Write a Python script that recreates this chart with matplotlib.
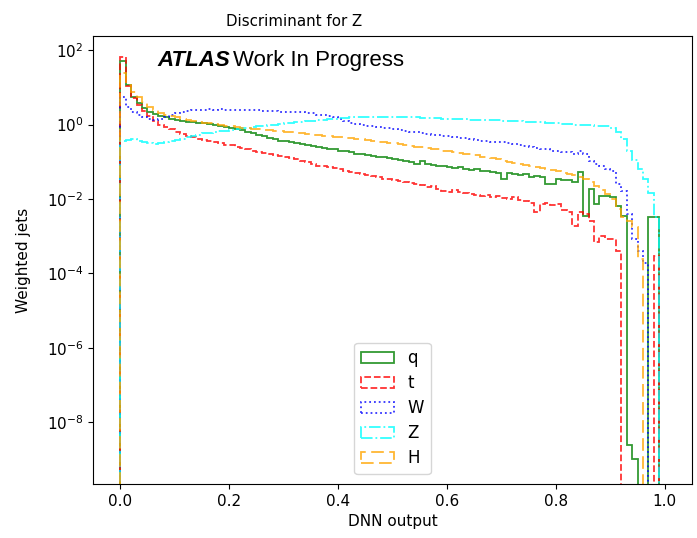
import numpy as np
import matplotlib
matplotlib.use("Agg")
import matplotlib.pyplot as plt
from matplotlib.ticker import NullLocator

# 100 bins of DNN output between 0 and 1
bin_edges = np.linspace(0.0, 1.0, 101)

q_vals = [51, 11.7, 5.6, 3.9, 2.8, 2.2, 1.9, 1.66, 1.55, 1.41,
          1.32, 1.26, 1.20, 1.15, 1.12, 1.07, 1.02, 0.95, 0.91, 0.85,
          0.79, 0.74, 0.71, 0.65, 0.60, 0.54, 0.48, 0.44, 0.40, 0.37,
          0.355, 0.33, 0.316, 0.295, 0.28, 0.26, 0.25, 0.24, 0.224, 0.214,
          0.20, 0.19, 0.178, 0.166, 0.158, 0.151, 0.145, 0.138, 0.132, 0.126,
          0.117, 0.112, 0.107, 0.100, 0.085, 0.105, 0.089, 0.083, 0.079, 0.076,
          0.071, 0.068, 0.074, 0.065, 0.060, 0.063, 0.056, 0.058, 0.054, 0.050,
          0.034, 0.050, 0.047, 0.045, 0.048, 0.040, 0.042, 0.038, 0.025, 0.026,
          0.035, 0.032, 0.033, 0.028, 0.052, 0.0035, 0.019, 0.0074, 0.012, 0.012,
          0.0112, 0.0066, 0.0035, 2.5e-9, 1e-9, 0, 0, 0.0033, 0.0033, 0]

t_vals = [66, 11.2, 5.2, 3.3, 2.3, 1.66, 1.26, 1.0, 0.85, 0.74,
          0.63, 0.55, 0.50, 0.45, 0.42, 0.38, 0.355, 0.33, 0.31, 0.29,
          0.275, 0.257, 0.24, 0.22, 0.20, 0.178, 0.174, 0.166, 0.151, 0.141,
          0.132, 0.126, 0.117, 0.107, 0.098, 0.089, 0.079, 0.076, 0.071, 0.066,
          0.063, 0.056, 0.054, 0.050, 0.048, 0.045, 0.042, 0.038, 0.035, 0.034,
          0.032, 0.030, 0.028, 0.027, 0.025, 0.024, 0.021, 0.022, 0.019, 0.0166,
          0.0151, 0.0178, 0.0158, 0.0141, 0.0132, 0.0126, 0.0120, 0.0126, 0.0112, 0.0120,
          0.0105, 0.0100, 0.0112, 0.0095, 0.0089, 0.0079, 0.0045, 0.0074, 0.0079, 0.0071,
          0.0074, 0.0050, 0.0045, 0.0019, 0.0045, 0.0040, 0.0026, 0.00071, 0.00102, 0.00085,
          0.00085, 0.00039, 0, 0, 0, 0, 0, 0, 0.0003, 0]

w_vals = [5.6, 3.0, 2.24, 1.86, 1.58, 1.38, 1.35, 1.41, 1.58, 1.78,
          2.0, 2.14, 2.29, 2.40, 2.51, 2.51, 2.57, 2.51, 2.57, 2.51,
          2.51, 2.51, 2.45, 2.51, 2.45, 2.40, 2.34, 2.34, 2.29, 2.24,
          2.24, 2.19, 2.14, 2.19, 2.09, 2.00, 1.86, 1.78, 1.66, 1.55,
          1.41, 1.26, 1.12, 1.05, 1.00, 0.93, 0.89, 0.85, 0.83, 0.79,
          0.76, 0.72, 0.69, 0.65, 0.62, 0.59, 0.56, 0.54, 0.51, 0.49,
          0.48, 0.46, 0.44, 0.43, 0.41, 0.39, 0.37, 0.355, 0.347, 0.33,
          0.33, 0.316, 0.295, 0.28, 0.27, 0.245, 0.234, 0.224, 0.214, 0.20,
          0.19, 0.18, 0.178, 0.166, 0.19, 0.158, 0.102, 0.089, 0.076, 0.063,
          0.056, 0.025, 0.016, 0.004, 0.00085, 0.0004, 0.00019, 0, 0, 0]

z_vals = [0.355, 0.38, 0.40, 0.37, 0.34, 0.316, 0.30, 0.316, 0.34, 0.355,
          0.38, 0.42, 0.46, 0.50, 0.54, 0.575, 0.60, 0.63, 0.66, 0.69,
          0.72, 0.76, 0.79, 0.83, 0.87, 0.91, 0.93, 0.98, 1.00, 1.05,
          1.07, 1.12, 1.15, 1.17, 1.23, 1.26, 1.32, 1.35, 1.41, 1.45,
          1.48, 1.51, 1.55, 1.55, 1.58, 1.58, 1.62, 1.62, 1.62, 1.62,
          1.62, 1.58, 1.58, 1.55, 1.55, 1.51, 1.51, 1.48, 1.48, 1.45,
          1.41, 1.41, 1.38, 1.38, 1.35, 1.35, 1.32, 1.32, 1.29, 1.29,
          1.26, 1.26, 1.23, 1.23, 1.20, 1.20, 1.17, 1.15, 1.12, 1.10,
          1.07, 1.05, 1.02, 1.00, 1.00, 0.98, 0.95, 0.93, 0.91, 0.89,
          0.83, 0.63, 0.40, 0.20, 0.112, 0.063, 0.034, 0.0141, 0.0032, 0]

h_vals = [24.5, 11.7, 7.6, 5.6, 4.1, 3.0, 2.4, 2.1, 1.82, 1.66,
          1.55, 1.45, 1.35, 1.26, 1.17, 1.12, 1.07, 1.02, 0.98, 0.93,
          0.89, 0.85, 0.83, 0.79, 0.78, 0.76, 0.72, 0.71, 0.68, 0.66,
          0.65, 0.62, 0.60, 0.575, 0.56, 0.54, 0.525, 0.50, 0.49, 0.47,
          0.46, 0.44, 0.43, 0.41, 0.40, 0.38, 0.36, 0.35, 0.34, 0.32,
          0.31, 0.295, 0.28, 0.27, 0.257, 0.245, 0.234, 0.224, 0.214, 0.20,
          0.19, 0.18, 0.174, 0.166, 0.158, 0.148, 0.138, 0.132, 0.123, 0.115,
          0.107, 0.100, 0.095, 0.089, 0.083, 0.079, 0.074, 0.069, 0.065, 0.060,
          0.056, 0.051, 0.047, 0.043, 0.039, 0.035, 0.028, 0.022, 0.0178, 0.0132,
          0.0100, 0.0054, 0.0033, 0.0026, 0.0018, 0.00025, 0, 0, 0, 0]

labels = ["q", "t", "W", "Z", "H"]
series = [q_vals, t_vals, w_vals, z_vals, h_vals]
colors = ["green", "red", "blue", "cyan", "orange"]
styles = ["-", "--", ":", "-.", (0, (7, 3))]

fig = plt.figure(figsize=(6.97, 5.38), dpi=100)
ax = fig.add_axes([0.1334, 0.1004, 0.8594, 0.8327])

centers = 0.5 * (bin_edges[:-1] + bin_edges[1:])
for vals, lab, col, ls in zip(series, labels, colors, styles):
    ax.hist(centers, bins=bin_edges, weights=vals, histtype="step", log=True,
            color=col, linestyle=ls, linewidth=1.3, alpha=0.8, label=lab)

ax.set_xlim(-0.05, 1.05)
ax.set_ylim(10 ** -9.66, 10 ** 2.38)
ax.yaxis.set_minor_locator(NullLocator())
ax.tick_params(labelsize=11)

# title sits left of the axes centre in the original
fig.text(0.422, 0.960, "Discriminant for Z", fontsize=10.8, ha="center", va="center")
ax.set_xlabel("DNN output", fontsize=11)
ax.set_ylabel("Weighted jets", fontsize=11, labelpad=11)

ax.text(0.107, 0.945, "ATLAS", transform=ax.transAxes, fontsize=16,
        fontweight="bold", fontstyle="italic", family="Liberation Sans", va="center")
ax.text(0.234, 0.945, "Work In Progress", transform=ax.transAxes, fontsize=16,
        family="Liberation Sans", va="center")

ax.legend(loc="lower center", fontsize=12, borderaxespad=0.6, labelspacing=0.42)

fig.savefig("out.png", dpi=100)
